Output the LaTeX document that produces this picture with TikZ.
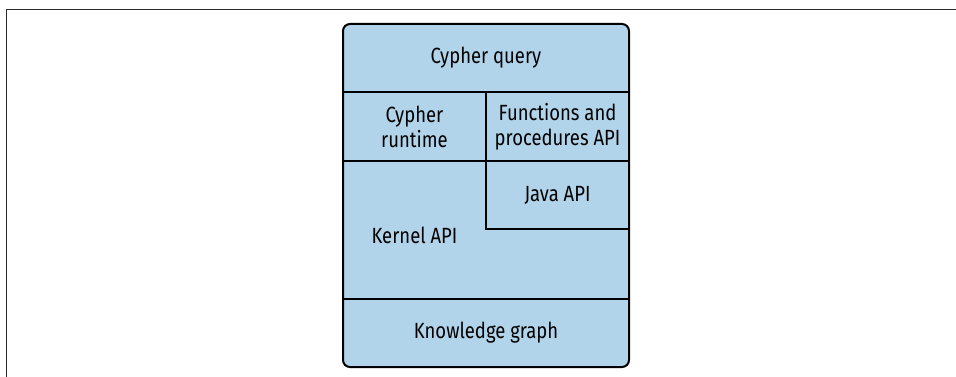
\documentclass[tikz,border=0pt]{standalone}
\usepackage{fontspec}
\setmainfont{Fira Sans}[FakeStretch=0.84]
\definecolor{layerblue}{RGB}{178,212,234}
\definecolor{framegray}{RGB}{40,40,40}

\begin{document}
\begin{tikzpicture}[x=1pt,y=-1pt,
    layer/.style={font=\fontsize{22}{25}\selectfont, align=center, text=black, inner sep=0pt},
    divider/.style={line width=2pt, black}]
    \useasboundingbox (0,0) rectangle (956,377);
    % rámeček
    \draw[framegray, line width=1pt] (6,377)--(6,9.5)--(956,9.5);

    % vrstvy
    \fill[layerblue, rounded corners=7pt] (343,24) rectangle (629,367);
    \draw[divider] (343,92)--(629,92) (343,161)--(629,161) (343,299)--(629,299);
    \draw[divider] (486,92)--(486,229)--(629,229);
    \draw[divider, rounded corners=7pt] (343,24) rectangle (629,367);

    \node[layer] (query) at (486,58) {Cypher query};
    \node[layer] (runtime) at (414.5,126.5) {Cypher\\runtime};
    \node[layer] (procs) at (557.5,126.5) {Functions and\\procedures API};
    \node[layer] (java) at (557.5,195) {Java API};
    \node[layer] (kernel) at (414.5,235) {Kernel API};
    \node[layer] (graph) at (486,333) {Knowledge graph};
\end{tikzpicture}
\end{document}
